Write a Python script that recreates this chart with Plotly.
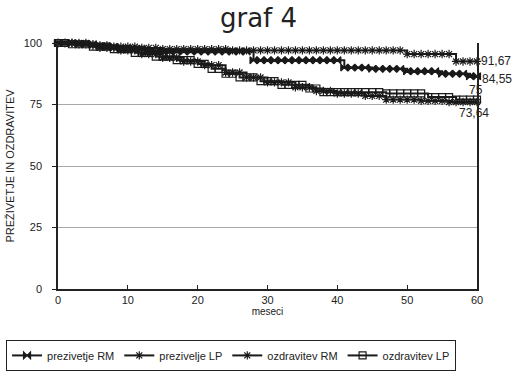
import plotly.graph_objects as go

months = list(range(0, 61))

prez_LP = ([100]*5 + [99]*3 + [98.5]*4 + [98]*3 + [97.5]*10 + [97]*25 + [95.5]*7 + [92.5]*4)
prez_RM = ([100]*3 + [99.5]*3 + [98.5]*3 + [97.5]*4 + [96.5]*5 + [96.5]*10 + [93]*13 + [90]*4
           + [89.5]*5 + [88.5]*5 + [87.5]*4 + [86.5]*2)
ozdr_LP = ([100]*2 + [99.5]*3 + [98.5]*3 + [97.5]*3 + [96]*3 + [94.5]*3 + [93]*3 + [91.5]*2
           + [89.5]*2 + [87.5]*2 + [86]*3 + [84.5]*3 + [83]*4 + [81.5]*2 + [80]*9 + [79.5]*6
           + [78]*4 + [77]*4)
ozdr_RM = ([100]*3 + [99.5]*3 + [98]*3 + [97]*3 + [95.5]*3 + [94]*3 + [92.5]*3 + [91]*3
           + [88]*3 + [86]*3 + [84]*4 + [82]*3 + [80.5]*3 + [79.5]*4 + [78.5]*3 + [77]*5
           + [76.5]*4 + [76]*5)

series = [
    ("prezivetje RM", prez_RM, "bowtie"),
    ("prezivelje LP", prez_LP, "asterisk-open"),
    ("ozdravitev RM", ozdr_RM, "asterisk-open"),
    ("ozdravitev LP", ozdr_LP, "square-open"),
]

end_labels = ["91,67", "84,55", "75", "73,64"]

fig = go.Figure()
for name, vals, sym in series:
    fig.add_trace(go.Scatter(
        x=months, y=vals, name=name, mode="lines+markers",
        line=dict(color="#1a1a1a", width=2, shape="hv"),
        marker=dict(symbol=sym, size=7, color="#1a1a1a",
                    line=dict(color="#1a1a1a", width=1.2)),
        cliponaxis=False,
    ))

# pixel offsets from the right edge of the plot area, and vertical paper positions
ann_pos = [(2, 0.927), (3, 0.854), (-10, 0.81), (-20, 0.715)]
for txt, (xs, ay) in zip(end_labels, ann_pos):
    fig.add_annotation(x=1, y=ay, xref="paper", yref="paper", text=txt,
                       xanchor="left", yanchor="middle", xshift=xs,
                       showarrow=False, font=dict(size=12, color="#222"))

fig.update_layout(
    width=517, height=379,
    margin=dict(l=58, r=40, t=43, b=90, autoexpand=False),
    paper_bgcolor="white", plot_bgcolor="white",
    font=dict(family="Liberation Sans, Arial, sans-serif", color="#222"),
    title=dict(text="graf 4", x=0.5, xanchor="center", y=0.952, yanchor="middle",
               font=dict(family="DejaVu Sans", size=26, color="#222")),
    showlegend=True,
    legend=dict(orientation="h", x=-0.124, xanchor="left", y=-0.207, yanchor="top",
                bordercolor="#222", borderwidth=1, font=dict(size=11, color="#222"),
                itemwidth=30, tracegroupgap=0),
)
fig.update_xaxes(range=[0, 60], tickvals=[0, 10, 20, 30, 40, 50, 60],
                 showgrid=False, zeroline=False, showline=True, linecolor="#222",
                 linewidth=1.5, ticks="inside", ticklen=4, tickcolor="#222",
                 tickfont=dict(size=11, color="#222"), automargin=False,
                 title=dict(text="meseci", font=dict(size=10, color="#222"), standoff=0))
fig.update_yaxes(range=[0, 100], tickvals=[0, 25, 50, 75, 100],
                 showgrid=True, gridcolor="#aaa", gridwidth=1, zeroline=False,
                 showline=True, linecolor="#222", linewidth=1.5, mirror=True,
                 ticks="outside", ticklen=4, tickcolor="#222", ticklabelstandoff=8,
                 tickfont=dict(size=11, color="#222"), automargin=False,
                 title=dict(text="PREŽIVETJE IN OZDRAVITEV",
                            font=dict(size=11, color="#222"), standoff=7))

fig.write_html("out.html")
